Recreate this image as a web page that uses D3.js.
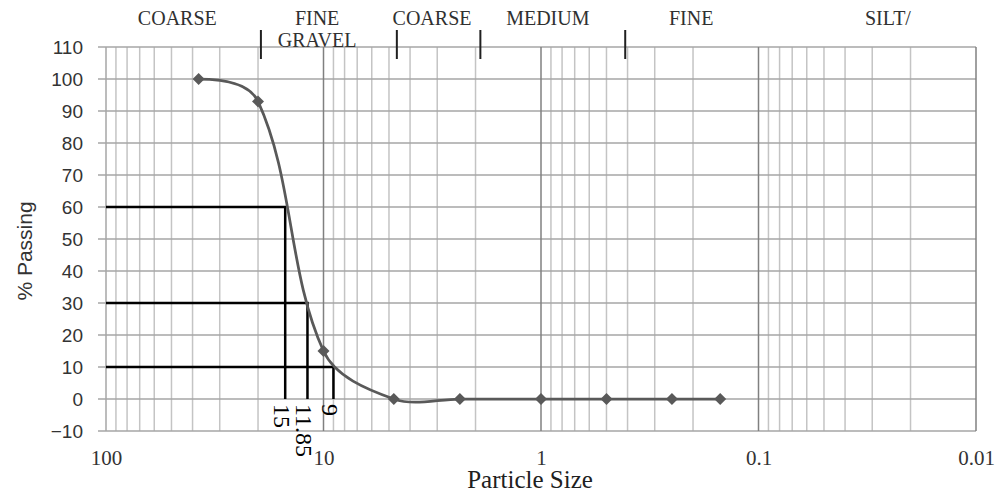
<!DOCTYPE html>
<html>
<head>
<meta charset="utf-8">
<script src="https://cdn.jsdelivr.net/npm/d3@7"></script>
<style>
  html, body { margin: 0; padding: 0; background: #fff; }
</style>
</head>
<body>
<svg id="chart" width="1000" height="494"></svg>
<script>
// sieve data
const sizes = [37.5, 20, 10, 4.75, 2.36, 1, 0.5, 0.25, 0.15];
const passing = [100, 93, 15, 0, 0, 0, 0, 0, 0];

// D60 / D30 / D10 markers
const dSizes = [15, 11.85, 9];
const dPercents = [60, 30, 10];
const dLabels = ["15", "11.85", "9"];

// soil zone labels along the top
const zoneLabels = ["COARSE", "FINE", "GRAVEL", "COARSE", "MEDIUM", "FINE", "SILT/"];
const zoneAt = [47, 10.7, 10.7, 3.17, 0.93, 0.204, 0.0254];
const zoneRow = [0, 0, 1, 0, 0, 0, 0];
const zoneBreaks = [19.4, 4.6, 1.9, 0.41];

const xTicks = [100, 10, 1, 0.1, 0.01];
const yTicks = d3.range(-10, 111, 10);

const width = 1000, height = 494;
const margin = { top: 47, right: 24, bottom: 63, left: 106 };
const svg = d3.select("#chart");

const x = d3.scaleLog()
  .domain([100, 0.01])
  .range([margin.left, width - margin.right]);

const y = d3.scaleLinear()
  .domain([-10, 110])
  .range([height - margin.bottom, margin.top]);

const serif = "'Liberation Serif', 'Times New Roman', serif";
const sans = "'Liberation Sans', Arial, sans-serif";

// spreadsheet-style smoothing: tangent along neighbours, handle length = 1/3 of segment
function smoothPath(p) {
  const n = p.length;
  const unit = (a, b) => {
    const dx = b[0] - a[0], dy = b[1] - a[1], l = Math.hypot(dx, dy) || 1;
    return [dx / l, dy / l];
  };
  const tan = p.map((pt, i) => {
    if (i > 0 && i < n - 1) return unit(p[i - 1], p[i + 1]);
    return [1, 0];
  });
  const path = d3.path();
  path.moveTo(p[0][0], p[0][1]);
  for (let i = 0; i < n - 1; i++) {
    const a = p[i], b = p[i + 1];
    const L = Math.hypot(b[0] - a[0], b[1] - a[1]) / 3;
    path.bezierCurveTo(
      a[0] + tan[i][0] * L, a[1] + tan[i][1] * L,
      b[0] - tan[i + 1][0] * L, b[1] - tan[i + 1][1] * L,
      b[0], b[1]);
  }
  return path.toString();
}

// 1. Grid
const grid = svg.append("g");
const minor = [];
[100, 10, 1, 0.1].forEach(dec => {
  for (let k = 2; k <= 9; k++) minor.push(dec * k / 10);
});

grid.selectAll(".minor")
  .data(minor)
  .join("line")
    .attr("x1", d => x(d)).attr("x2", d => x(d))
    .attr("y1", y(-10)).attr("y2", y(110))
    .attr("stroke", "#c4c4c4")
    .attr("stroke-width", 1.5);

grid.selectAll(".hline")
  .data(yTicks)
  .join("line")
    .attr("x1", margin.left - 8).attr("x2", x(0.01))
    .attr("y1", d => y(d)).attr("y2", d => y(d))
    .attr("stroke", "#a6a6a6")
    .attr("stroke-width", 1.5);

grid.selectAll(".major")
  .data(xTicks)
  .join("line")
    .attr("x1", d => x(d)).attr("x2", d => x(d))
    .attr("y1", y(-10)).attr("y2", y(110))
    .attr("stroke", d => d === 100 ? "#a6a6a6" : "#808080")
    .attr("stroke-width", 1.5);

// 2. Axes labels
const yAxis = svg.append("g")
  .attr("transform", `translate(${margin.left},0)`)
  .call(d3.axisLeft(y).tickValues(yTicks).tickSize(0).tickPadding(23));
yAxis.select(".domain").remove();
yAxis.selectAll("text")
  .attr("fill", "#333")
  .attr("font-family", sans)
  .attr("font-size", "19px");

const xAxis = svg.append("g")
  .attr("transform", `translate(0,${height - margin.bottom})`)
  .call(d3.axisBottom(x).tickValues(xTicks).tickFormat(d3.format("~g")).tickSize(0).tickPadding(19));
xAxis.select(".domain").remove();
xAxis.selectAll("text")
  .attr("fill", "#333")
  .attr("font-family", serif)
  .attr("font-size", "21px");

svg.append("text")
  .attr("x", 530)
  .attr("y", 488)
  .attr("text-anchor", "middle")
  .attr("fill", "#202020")
  .attr("font-family", serif)
  .attr("font-size", "25px")
  .text("Particle Size");

svg.append("text")
  .attr("transform", "translate(32,251) rotate(-90)")
  .attr("text-anchor", "middle")
  .attr("fill", "#333")
  .attr("font-family", sans)
  .attr("font-size", "21px")
  .text("% Passing");

// 3. D60 / D30 / D10 construction lines
const dGroup = svg.append("g");
dSizes.forEach((s, i) => {
  dGroup.append("path")
    .attr("d", `M${x(100)},${y(dPercents[i])}H${x(s)}V${y(0)}`)
    .attr("fill", "none")
    .attr("stroke", "#000")
    .attr("stroke-width", 2.5);

  dGroup.append("text")
    .attr("transform", `translate(${x(s) - 11},${y(0) + 5}) rotate(90)`)
    .attr("fill", "#000")
    .attr("font-family", serif)
    .attr("font-size", "24px")
    .text(dLabels[i]);
});

// 4. Gradation curve
const pts = sizes.map((s, i) => [x(s), y(passing[i])]);
svg.append("path")
  .attr("d", smoothPath(pts))
  .attr("fill", "none")
  .attr("stroke", "#595959")
  .attr("stroke-width", 2.75);

svg.selectAll(".pt")
  .data(pts)
  .join("path")
    .attr("transform", d => `translate(${d[0]},${d[1]}) rotate(45)`)
    .attr("d", d3.symbol(d3.symbolSquare, 72))
    .attr("fill", "#595959");

// 5. Zone labels and breaks
svg.selectAll(".zone")
  .data(zoneLabels)
  .join("text")
    .attr("x", (d, i) => x(zoneAt[i]))
    .attr("y", (d, i) => 25 + zoneRow[i] * 22)
    .attr("text-anchor", "middle")
    .attr("fill", "#303030")
    .attr("font-family", serif)
    .attr("font-size", "20px")
    .text(d => d);

svg.selectAll(".brk")
  .data(zoneBreaks)
  .join("line")
    .attr("x1", d => x(d)).attr("x2", d => x(d))
    .attr("y1", 30).attr("y2", 59)
    .attr("stroke", "#202020")
    .attr("stroke-width", 2);
</script>
</body>
</html>
